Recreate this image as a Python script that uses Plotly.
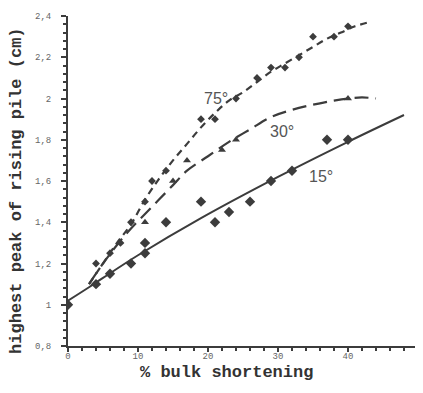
import plotly.graph_objects as go

# ---- data ----
x15 = [0, 4, 6, 9, 11, 11, 14, 19, 21, 23, 26, 29, 32, 37, 40]
y15 = [1.0, 1.1, 1.15, 1.2, 1.25, 1.3, 1.4, 1.5, 1.4, 1.45, 1.5, 1.6, 1.65, 1.8, 1.8]

x30 = [11, 15, 17, 22, 24, 40]
y30 = [1.4, 1.6, 1.7, 1.75, 1.8, 2.0]

x75 = [4, 6, 7.5, 9, 11, 12, 14, 19, 21, 24, 27, 29, 31, 33, 35, 38, 40]
y75 = [1.2, 1.25, 1.3, 1.4, 1.5, 1.6, 1.65, 1.9, 1.9, 2.0, 2.1, 2.15, 2.15, 2.2, 2.3, 2.3, 2.35]

# fitted curves
fx15 = [0, 3, 5, 10, 19, 30, 40, 48]
fy15 = [1.02, 1.085, 1.13, 1.24, 1.42, 1.62, 1.79, 1.92]

fx30 = [3, 5, 7, 9, 11, 13, 15, 17, 20, 23, 26, 29, 32, 35, 38, 40, 42, 44]
fy30 = [1.1, 1.2, 1.29, 1.37, 1.44, 1.51, 1.58, 1.65, 1.72, 1.79, 1.85, 1.91, 1.945, 1.97, 1.99, 2.0, 2.005, 2.0]

fx75 = [3, 5, 7, 9, 11, 13, 15, 17, 19, 21, 23, 25, 27, 29, 31, 33, 35, 37, 39, 41, 43]
fy75 = [1.1, 1.2, 1.3, 1.39, 1.51, 1.61, 1.7, 1.78, 1.86, 1.93, 1.99, 2.03, 2.08, 2.13, 2.17, 2.21, 2.25, 2.29, 2.32, 2.35, 2.37]

labels = ["75°", "30°", "15°"]
label_x = [21.2, 30.5, 36.2]
label_y = [2.0, 1.84, 1.62]

ytick_vals = [0.8, 1.0, 1.2, 1.4, 1.6, 1.8, 2.0, 2.2, 2.4]
ytick_text = ["0,8", "1", "1,2", "1,4", "1,6", "1,8", "2", "2,2", "2,4"]
xtick_vals = [0, 10, 20, 30, 40, 50]

x_title = "% bulk shortening"
y_title = "highest peak of rising pile (cm)"

ink = "#3c3c3c"

fig = go.Figure()
fig.add_trace(go.Scatter(x=fx15, y=fy15, mode="lines", line=dict(color=ink, width=2, shape="spline"), hoverinfo="skip"))
fig.add_trace(go.Scatter(x=fx30, y=fy30, mode="lines", line=dict(color=ink, width=2.2, shape="spline", dash="14px,7px"), hoverinfo="skip"))
fig.add_trace(go.Scatter(x=fx75, y=fy75, mode="lines", line=dict(color=ink, width=2.2, shape="spline", dash="7px,5px"), hoverinfo="skip"))

fig.add_trace(go.Scatter(x=x15, y=y15, mode="markers", marker=dict(symbol="diamond", size=8, color=ink)))
fig.add_trace(go.Scatter(x=x30, y=y30, mode="markers", marker=dict(symbol="triangle-up", size=7, color=ink)))
fig.add_trace(go.Scatter(x=x75, y=y75, mode="markers", marker=dict(symbol="diamond", size=6, color=ink)))

for t, lx, ly in zip(labels, label_x, label_y):
    fig.add_annotation(x=lx, y=ly, text=t, showarrow=False,
                       font=dict(family="Liberation Sans", size=16, color="#555555"))

title_font = dict(size=17, family="Liberation Mono", color="#333333")
fig.add_annotation(xref="paper", yref="paper", x=0.454, y=0, yshift=-26, yanchor="middle",
                   text="<b>" + x_title + "</b>", showarrow=False, font=title_font)
fig.add_annotation(xref="paper", yref="paper", x=0, y=0.47, xshift=-51, xanchor="center",
                   text="<b>" + y_title + "</b>", textangle=-90, showarrow=False, font=title_font)

# page body adds an ~8px margin; figure sized so the plot lands where the reference has it
fig.update_layout(
    width=415, height=385,
    margin=dict(l=60, r=5, t=8, b=47),
    plot_bgcolor="white", paper_bgcolor="white",
    showlegend=False,
    font=dict(family="Liberation Mono", color="#555555"),
)
fig.update_xaxes(
    range=[0, 50], tickvals=xtick_vals, showgrid=False, zeroline=False, automargin=False,
    showline=True, linecolor=ink, linewidth=2,
    ticks="outside", ticklen=4, tickwidth=2, tickcolor=ink,
    minor=dict(dtick=2, ticks="outside", ticklen=3, tickwidth=1.5, tickcolor=ink),
    tickfont=dict(size=9, family="Liberation Mono", color="#666666"),
    ticklabelstandoff=-4,
)
fig.update_yaxes(
    range=[0.8, 2.4], tickvals=ytick_vals, ticktext=ytick_text, showgrid=False, zeroline=False, automargin=False,
    showline=True, linecolor=ink, linewidth=2,
    ticks="outside", ticklen=5, tickwidth=2, tickcolor=ink,
    minor=dict(dtick=0.04, tick0=0.8, ticks="outside", ticklen=3, tickwidth=1.5, tickcolor=ink),
    tickfont=dict(size=9, family="Liberation Mono", color="#666666"),
    ticklabelstandoff=8,
)

fig.write_html("out.html")
